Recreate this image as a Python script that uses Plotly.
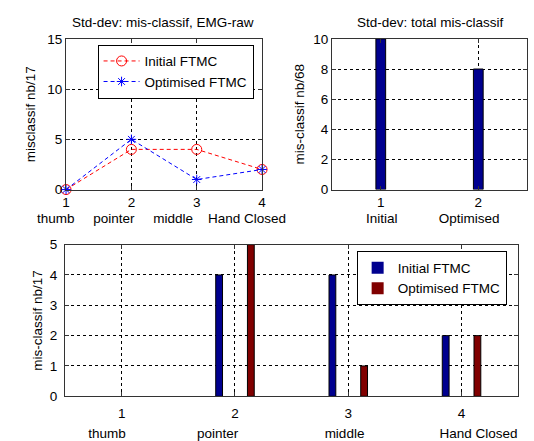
import plotly.graph_objects as go

# Gesture classes and misclassification standard deviations
positions = [1, 2, 3, 4]
pos_labels = ["1", "2", "3", "4"]
initial_ftmc = [0, 4, 4, 2]
optimised_ftmc = [0, 5, 1, 2]

# Totals over all gestures
total_positions = [1, 2]
total_labels = ["1", "2"]
total_values = [10, 8]

NB = "\u00a0"
FONT = dict(family="Liberation Sans, Arial, sans-serif", size=13.5, color="black")
NAVY = "#00008F"
MAROON = "#800000"
BOX = "#333333"


def outline(values):
    # no outline on empty bars, so a zero value leaves no mark
    return [1 if v else 0 for v in values]


fig = go.Figure()

# Top-left: line chart per gesture
fig.add_trace(go.Scatter(
    x=positions, y=initial_ftmc, name="Initial FTMC", mode="lines+markers",
    line=dict(color="red", width=1, dash="4px,3px"),
    marker=dict(symbol="circle-open", size=10, color="red", line=dict(width=1)),
    cliponaxis=False, xaxis="x", yaxis="y", legend="legend"))
fig.add_trace(go.Scatter(
    x=positions, y=optimised_ftmc, name="Optimised FTMC", mode="lines+markers",
    line=dict(color="blue", width=1, dash="4px,3px"),
    marker=dict(symbol="asterisk-open", size=8, color="blue", line=dict(width=1, color="blue")),
    cliponaxis=False, xaxis="x", yaxis="y", legend="legend"))

# Top-right: total bars
fig.add_trace(go.Bar(
    x=total_positions, y=total_values, width=0.1, showlegend=False,
    marker=dict(color=NAVY, line=dict(color="black", width=outline(total_values))),
    xaxis="x2", yaxis="y2"))

# Bottom: grouped bars per gesture
fig.add_trace(go.Bar(
    x=positions, y=initial_ftmc, name="Initial FTMC", width=0.06, offset=-0.17,
    marker=dict(color=NAVY, line=dict(color="black", width=outline(initial_ftmc))),
    xaxis="x3", yaxis="y3", legend="legend2"))
fig.add_trace(go.Bar(
    x=positions, y=optimised_ftmc, name="Optimised FTMC", width=0.06, offset=0.11,
    marker=dict(color=MAROON, line=dict(color="black", width=outline(optimised_ftmc))),
    xaxis="x3", yaxis="y3", legend="legend2"))

W, H = 534, 441


def px_x(a, b):
    return [a / W, b / W]


def px_y(top, bottom):
    return [1 - bottom / H, 1 - top / H]


def label(text, cx, cy):
    # free-standing text centred on a pixel position of the page
    return dict(text=text, x=cx / W, y=1 - cy / H, xref="paper", yref="paper",
                showarrow=False, font=FONT, xanchor="center", yanchor="middle")


axis_common = dict(
    showline=True, linecolor=BOX, linewidth=1, mirror="ticks",
    ticks="inside", ticklen=4, tickcolor=BOX,
    showgrid=True, gridcolor="black", gridwidth=1, griddash="3px,3px",
    zeroline=False, tickfont=FONT, title_font=FONT, fixedrange=True,
)

xt1 = "thumb" + NB * 5 + "pointer" + NB * 5 + "middle" + NB * 4 + "Hand Closed"
xt2 = "Initial" + NB * 11 + "Optimised"
# leading padding kept inside a span so it is not trimmed away
xt3 = ("<span>" + NB * 6 + "</span>thumb" + NB * 19 + "pointer" + NB * 23
       + "middle" + NB * 20 + "Hand Closed")

fig.update_layout(
    width=W, height=H,
    margin=dict(l=0, r=0, t=0, b=0),
    paper_bgcolor="white", plot_bgcolor="white",
    font=FONT, barmode="overlay",
    xaxis=dict(axis_common, domain=px_x(63, 262), range=[1, 4], anchor="y",
               tickvals=positions, ticktext=pos_labels),
    yaxis=dict(axis_common, domain=px_y(33, 189), range=[0, 15], anchor="x",
               tickvals=[0, 5, 10, 15],
               title=dict(text="misclassif nb/17", standoff=8)),
    xaxis2=dict(axis_common, domain=px_x(333, 531), range=[0.5, 2.5], anchor="y2",
                tickvals=total_positions, ticktext=total_labels),
    yaxis2=dict(axis_common, domain=px_y(33, 189), range=[0, 10], anchor="x2",
                tickvals=[0, 2, 4, 6, 8, 10],
                title=dict(text="mis-classif nb/68", standoff=5)),
    xaxis3=dict(axis_common, domain=px_x(62, 522), range=[0.5, 4.5], anchor="y3",
                tickvals=positions, ticktext=pos_labels, ticklabelstandoff=5,
                title=dict(text=xt3, standoff=9)),
    yaxis3=dict(axis_common, domain=px_y(246, 403), range=[0, 5], anchor="x3",
                tickvals=[0, 1, 2, 3, 4, 5], ticklabelstandoff=4,
                title=dict(text="mis-classif nb/17", standoff=4)),
    legend=dict(x=95 / W, y=1 - 39 / H, xanchor="left", yanchor="top",
                bgcolor="white", bordercolor="black", borderwidth=1,
                font=FONT, tracegroupgap=0, itemwidth=36),
    legend2=dict(x=358 / W, y=1 - 253 / H, xanchor="left", yanchor="top",
                 bgcolor="white", bordercolor="black", borderwidth=1,
                 font=FONT, tracegroupgap=0),
    annotations=[
        label("Std-dev: mis-classif, EMG-raw", 161, 16),
        label("Std-dev: total mis-classif", 433, 16),
        label(xt1, 160, 219),
        label(xt2, 436, 219),
    ],
)

fig.write_html("out.html")
